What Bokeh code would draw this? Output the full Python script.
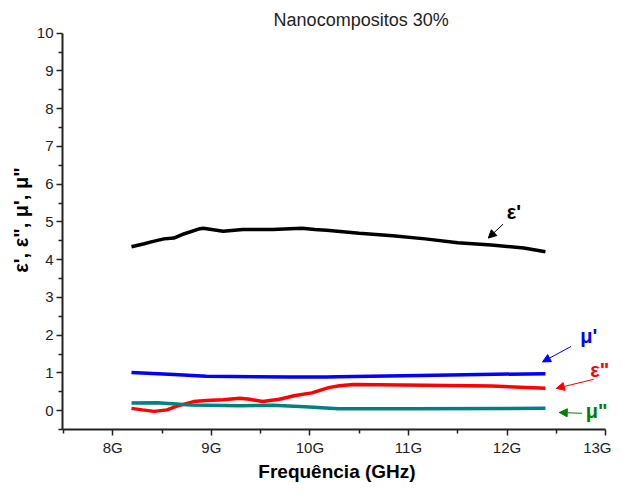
from bokeh.plotting import figure
from bokeh.models import Range1d, FixedTicker, Arrow, NormalHead, Label
from bokeh.embed import file_html
from bokeh.resources import INLINE

# ---- data ----
f_eps1 = [8.19, 8.32, 8.39, 8.52, 8.62, 8.72, 8.87, 8.92, 9.12, 9.32, 9.62, 9.92, 10.05,
          10.17, 10.5, 10.84, 11.17, 11.5, 11.84, 12.17, 12.39]
eps1 = [4.34, 4.42, 4.47, 4.55, 4.57, 4.68, 4.81, 4.83, 4.75, 4.80, 4.80, 4.83, 4.80,
        4.78, 4.70, 4.63, 4.55, 4.45, 4.39, 4.31, 4.21]

f_eps2 = [8.19, 8.30, 8.42, 8.55, 8.65, 8.82, 8.95, 9.12, 9.29, 9.39, 9.52, 9.69, 9.85,
          10.02, 10.19, 10.30, 10.44, 11.17, 11.84, 12.39]
eps2 = [0.06, 0.02, -0.02, 0.02, 0.12, 0.24, 0.27, 0.29, 0.33, 0.30, 0.24, 0.30, 0.40,
        0.47, 0.61, 0.66, 0.69, 0.67, 0.65, 0.59]

f_mu1 = [8.19, 8.62, 8.95, 9.45, 9.79, 10.17, 10.29, 11.27, 12.39]
mu1 = [1.01, 0.96, 0.91, 0.90, 0.89, 0.89, 0.90, 0.94, 0.98]

f_mu2 = [8.19, 8.45, 8.79, 9.29, 9.62, 9.95, 10.29, 11.0, 12.39]
mu2 = [0.20, 0.21, 0.15, 0.13, 0.14, 0.10, 0.05, 0.05, 0.06]

x_ticks = [8, 9, 10, 11, 12, 13]
x_tick_labels = ["8G", "9G", "10G", "11G", "12G", "13G"]
y_ticks = [0, 1, 2, 3, 4, 5, 6, 7, 8, 9, 10]

FONT = "Liberation Sans"

p = figure(width=611, height=484, output_backend="svg", toolbar_location=None,
           x_range=Range1d(7.49, 13.06), y_range=Range1d(-0.5, 10.6),
           min_border_left=62, min_border_right=0, min_border_top=10, min_border_bottom=52)
p.outline_line_color = None
p.grid.grid_line_color = None
p.background_fill_color = "white"
p.border_fill_color = "white"

for ax in (p.xaxis[0], p.yaxis[0]):
    ax.axis_line_width = 2
    ax.axis_line_color = "#222222"
    ax.major_tick_line_color = "#222222"
    ax.minor_tick_line_color = "#222222"
    ax.major_tick_line_width = 1.5
    ax.minor_tick_line_width = 1.5
    ax.major_tick_out = 6
    ax.major_tick_in = 0
    ax.minor_tick_out = 4
    ax.minor_tick_in = 0
    ax.major_label_standoff = 3
    ax.major_label_text_font = FONT
    ax.major_label_text_font_size = "15px"
    ax.major_label_text_color = "#222222"
    ax.axis_label_text_font = FONT
    ax.axis_label_text_font_style = "bold"
    ax.axis_label_text_color = "black"
    ax.axis_label_standoff = 2

p.xaxis.bounds = (7.49, 13.0)
p.xaxis.ticker = FixedTicker(ticks=x_ticks, minor_ticks=[7.5, 8.5, 9.5, 10.5, 11.5, 12.5])
p.xaxis.major_label_overrides = {t: l for t, l in zip(x_ticks, x_tick_labels)}
p.xaxis.axis_label = "Frequência (GHz)"
p.xaxis.axis_label_text_font_size = "19px"

p.yaxis.bounds = (-0.5, 10.0)
p.yaxis.ticker = FixedTicker(ticks=y_ticks, minor_ticks=[-0.5 + i for i in range(11)])
p.yaxis.axis_label = "ε', ε\", μ', μ\""
p.yaxis.axis_label_text_font_size = "20px"

p.line(f_eps1, eps1, line_color="black", line_width=3.5)
p.line(f_mu1, mu1, line_color="#0000ff", line_width=3.5)
p.line(f_eps2, eps2, line_color="#ff0000", line_width=3.5)
p.line(f_mu2, mu2, line_color="#008080", line_width=3.5)

# annotations
def arrow(x0, y0, x1, y1, c):
    p.add_layout(Arrow(end=NormalHead(size=8, fill_color=c, line_color=c),
                       x_start=x0, y_start=y0, x_end=x1, y_end=y1,
                       line_color=c, line_width=1))

arrow(11.96, 4.94, 11.81, 4.57, "black")
arrow(12.65, 1.70, 12.36, 1.29, "#0000ff")
arrow(12.88, 0.83, 12.50, 0.59, "#ff0000")
arrow(12.76, -0.07, 12.53, -0.05, "#008000")

def lab(x, y, t, c):
    p.add_layout(Label(x=x, y=y, text=t, text_color=c, text_font=FONT,
                       text_font_style="bold", text_font_size="20px",
                       text_align="center", text_baseline="middle"))

lab(12.07, 5.27, "ε'", "black")
lab(12.83, 1.99, "μ'", "#0000ff")
lab(12.94, 1.08, "ε\"", "#ff0000")
lab(12.91, -0.02, "μ\"", "#008000")

p.add_layout(Label(x=10.52, y=10.34, text="Nanocompositos 30%", text_color="#222222",
                   text_font=FONT, text_font_size="18px",
                   text_align="center", text_baseline="middle"))

open("out.html", "w").write(file_html(p, INLINE))
